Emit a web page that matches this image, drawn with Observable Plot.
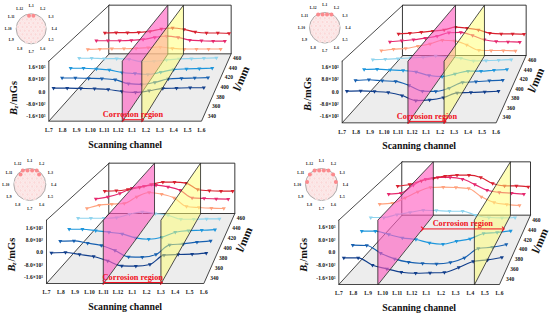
<!DOCTYPE html>
<html><head><meta charset="utf-8">
<style>html,body{margin:0;padding:0;background:#fff}svg{display:block}</style>
<script src="https://cdn.jsdelivr.net/npm/d3@7"></script>
<script src="https://cdn.jsdelivr.net/npm/@observablehq/plot@0.6"></script>
</head><body><div id="chart"></div>
<script>
const channels = ["L.7","L.8","L.9","L.10","L.11","L.12","L.1","L.2","L.3","L.4","L.5","L.6"];
const ringLabels = ["L.1","L.2","L.3","L.4","L.5","L.6","L.7","L.8","L.9","L.10","L.11","L.12"];
const lengths = [340,360,380,400,420,440,460];
const lengthColors = ["#123f8c","#1760b0","#1e96dc","#8fd4ee","#ffa27e","#e6286e","#d8202f"];
const zTicks = [1600,800,0,-800,-1600];
const zTickLabels = ["1.6×10³","8.0×10²","0.0","-8.0×10²","-1.6×10³"];

const panel1 = [
 [-66,-66,-88,-110,-154,-286,-352,-242,-88,-66,-44,-44],
 [22,22,0,-22,-90,-360,-405,-270,-45,0,22,45],
 [92,92,46,-23,-207,-276,-345,-184,0,46,69,92],
 [182,182,158,158,110,-58,-34,62,134,158,182,206],
 [198,222,247,247,272,321,370,272,222,222,222,222],
 [191,191,191,217,293,446,548,446,242,191,166,166],
 [119,145,145,172,251,436,515,409,198,119,119,92]];
const panel2 = [
 [-264,-242,-286,-352,-550,-880,-836,-682,-374,-352,-308,-264],
 [-135,-90,-158,-202,-472,-855,-878,-652,-270,-225,-158,-112],
 [12,35,-12,-58,-151,-406,-476,-290,-104,-104,-35,12],
 [95,119,167,214,262,357,286,190,0,24,48,95],
 [122,220,270,441,612,882,833,539,147,122,122,98],
 [126,202,278,405,557,810,835,607,278,152,126,101],
 [68,120,198,276,380,590,510,380,120,68,68,42]];
const panel3 = [
 [-342,-320,-451,-582,-867,-1195,-1218,-1108,-495,-451,-429,-363],
 [-174,-151,-309,-468,-806,-1236,-1259,-1078,-423,-355,-242,-151],
 [23,23,-70,-186,-303,-582,-676,-536,-186,-70,-47,0],
 [168,168,168,216,456,624,504,384,96,96,120,120],
 [224,473,548,598,1096,1419,1295,1021,374,299,249,224],
 [283,437,694,1105,1259,1336,1208,951,360,308,283,257],
 [187,214,320,481,721,908,908,828,320,214,187,187]];
const panel4 = [
 [-645,-645,-1114,-1348,-1561,-1625,-1604,-1582,-1263,-880,-773,-624],
 [-425,-447,-948,-1319,-1537,-1624,-1646,-1559,-1254,-643,-556,-381],
 [-105,-105,-329,-553,-665,-890,-979,-777,-620,-262,-195,-83],
 [207,207,414,552,713,690,644,644,368,207,184,207],
 [519,590,968,1393,1699,1723,1699,1628,1038,637,496,425],
 [603,675,1264,1701,1822,1822,1701,1312,889,729,675,603],
 [540,665,940,1115,1290,1365,1365,1190,740,565,565,490]];
const panelValues = [panel1,panel2,panel3,panel4];

// corrosion planes, in channel index units (0 = L.7)
const regionStart = [5.29,4.70,3.97,2.67];
const regionEnd = [6.70,7.28,8.0,9.28];
// length at which the region arrow sits on the floor
const arrowLength = [332,332,331,442];
// highlighted sensors, in inset lattice units [column,row]
const sensors = [
 [[-0.5,-3.5],[0.5,-3.5]],
 [[-1.5,-3.5],[-0.5,-3.5],[0.5,-3.5],[1.5,-3.5]],
 [[-1.5,-3.5],[-0.5,-3.5],[0.5,-3.5],[1.5,-3.5],[-2,-2.5],[2,-2.5]],
 [[-1.5,-3.5],[-0.5,-3.5],[0.5,-3.5],[1.5,-3.5],[-2.5,-2.5],[2.5,-2.5],[-3.1,-0.6],[3.1,-0.6]]
];

// layout of each pseudo-3D box
const frames = [
 {ox:0,oy:0,  fl:145,fr:603,bl:326,br:692,floorF:362,floorB:160,topF:182,topB:14,zd:[-1900,2000],ic:[30.7,28.3],ir:15,tShift:4},
 {ox:275,oy:0,fl:200,fr:662,bl:382,br:752,floorF:367,floorB:165,topF:182,topB:14,zd:[-2000,2000],ic:[49.3,27.3],ir:15.3,tShift:0},
 {ox:0,oy:158,fl:138,fr:610,bl:326,br:703,floorF:375,floorB:165,topF:185,topB:14,zd:[-2000,2100],ic:[29.3,26],ir:16,tShift:0},
 {ox:275,oy:158,fl:190,fr:672,bl:380,br:765,floorF:378,floorB:170,topF:185,topB:10,zd:[-2000,2050],ic:[46,26],ir:16,tShift:0}
];
const L0 = 329, L1 = 470, serif = "Liberation Serif";
const lerp = (a,b,t)=>a+(b-a)*t;

function projector(f){
  return (c,L,v)=>{
    const t=(L-L0)/(L1-L0), u=c/11;
    const x=lerp(lerp(f.fl,f.fr,u),lerp(f.bl,f.br,u),t);
    const fy=lerp(f.floorF,f.floorB,t), ty=lerp(f.topF,f.topB,t);
    const y=lerp(fy,ty,(v-f.zd[0])/(f.zd[1]-f.zd[0]));
    return {x:f.ox+x/3,y:f.oy+y/3};
  };
}
const marks=[];
const poly=(pts,o)=>marks.push(Plot.line(pts,{x:"x",y:"y",curve:"linear-closed",...o}));
const seg=(pts,o={})=>marks.push(Plot.line(pts,{x:"x",y:"y",stroke:"#1a1a1a",strokeWidth:0.8,...o}));
const label=(p,text,o)=>marks.push(Plot.text([p],{x:"x",y:"y",text:()=>text,fontFamily:serif,fontWeight:"bold",fill:"#111",...o}));

frames.forEach((f,i)=>{
  const P=projector(f), zLo=f.zd[0], zHi=f.zd[1];
  const FL=P(0,L0,zLo),FR=P(11,L0,zLo),BL=P(0,L1,zLo),BR=P(11,L1,zLo);
  const FLt=P(0,L0,zHi),BLt=P(0,L1,zHi),BRt=P(11,L1,zHi);
  poly([FL,FR,BR,BL],{fill:"#ededed",stroke:"none"});
  poly([BL,BR,BRt,BLt],{fill:"#fff",stroke:"#222",strokeWidth:0.9});
  seg([FLt,FL,FR,BR]); seg([FL,BL]); seg([FLt,BLt]);

  lengths.forEach((L,s)=>{
    const pts=channels.map((_,c)=>P(c,L,panelValues[i][s][c]));
    marks.push(Plot.line(pts,{x:"x",y:"y",stroke:lengthColors[s],strokeWidth:1.15,curve:"monotone-x"}));
    marks.push(Plot.dot(pts,{x:"x",y:"y",fill:lengthColors[s],stroke:"none",symbol:"triangle",r:1.5,rotate:180}));
  });

  const plane=(c)=>[P(c,L0,zLo),P(c,L0,zHi),P(c,L1,zHi),P(c,L1,zLo)];
  poly(plane(regionStart[i]),{fill:"#ff5cc0",fillOpacity:0.62,stroke:"#222",strokeWidth:0.8});
  poly(plane(regionEnd[i]),{fill:"#ffff70",fillOpacity:0.5,stroke:"#222",strokeWidth:0.8});

  channels.forEach((c,k)=>label(P(k,L0,zLo),c,{dy:9,fontSize:5.5}));
  zTicks.forEach((v,k)=>label(P(0,L0,v),zTickLabels[k],{dx:-3.5,textAnchor:"end",fontSize:5.5}));
  lengths.forEach(L=>label(P(11,L,zLo),String(L),{dx:4,textAnchor:"start",fontSize:5.5,dy:0}));

  const mid=P(5.5,L0,zLo);
  label(mid,"Scanning channel",{dy:23.5,fontSize:9.8});
  const z0=P(0,L0,0), ts=f.tShift;
  label({x:z0.x-35,y:z0.y+19+ts},"B",{rotate:-90,textAnchor:"start",fontSize:10.5,fontStyle:"italic"});
  label({x:z0.x-33,y:z0.y+12.3+ts},"z",{rotate:-90,textAnchor:"start",fontSize:6.5,fontStyle:"italic"});
  label({x:z0.x-35,y:z0.y+9+ts},"/mGs",{rotate:-90,textAnchor:"start",fontSize:10.5});
  const em=P(11,(L0+L1)/2,zLo);
  label({x:em.x+25,y:em.y-9},"l/mm",{rotate:-67,fontSize:11.5});

  const a=P(regionStart[i],arrowLength[i],zLo), b=P(regionEnd[i],arrowLength[i],zLo);
  marks.push(Plot.link([{a,b}],{x1:d=>d.a.x,y1:d=>d.a.y,x2:d=>d.b.x,y2:d=>d.b.y,stroke:"#f01020",strokeWidth:1,markerStart:"arrow",markerEnd:"arrow"}));
  label({x:(a.x+b.x)/2,y:a.y},"Corrosion region",{dy:-5.5,fontSize:8.3,fill:"#f01020"});

  // inset: cross-section of the sensor ring
  const cx=f.ox+f.ic[0], cy=f.oy+f.ic[1], R=f.ir, sx=R*0.29, sy=R*0.25;
  marks.push(Plot.dot([{x:cx,y:cy}],{x:"x",y:"y",r:R,fill:"#fbe4e4",stroke:"#999",strokeWidth:0.8}));
  const cells=[];
  for(let r=-3.5;r<=3.5;r++){
    const off=(Math.round(r+3.5)%2)?0:0.5;
    for(let c=-4+off;c<=4;c++){ if(Math.hypot(c*sx,r*sy)<R*0.93) cells.push({x:cx+c*sx,y:cy+r*sy}); }
  }
  marks.push(Plot.dot(cells,{x:"x",y:"y",symbol:"hexagon",r:1.45,fill:"#fbd8d8",stroke:"#fff",strokeWidth:0.4}));
  marks.push(Plot.dot(sensors[i].map(([c,r])=>({x:cx+c*sx,y:cy+r*sy})),{x:"x",y:"y",r:2,fill:"#fb8a8e",stroke:"none"}));
  ringLabels.forEach((t,k)=>{
    const ang=k*Math.PI/6;
    label({x:cx+(R+8)*Math.sin(ang),y:cy-(R+8)*Math.cos(ang)},t,{fontSize:3.6});
  });
});

const chart=Plot.plot({width:550,height:316,margin:0,
  style:{background:"#fff"},
  x:{domain:[0,550],range:[0,550],axis:null},
  y:{domain:[0,316],range:[0,316],axis:null},
  marks});
document.getElementById("chart").append(chart);
</script></body></html>
